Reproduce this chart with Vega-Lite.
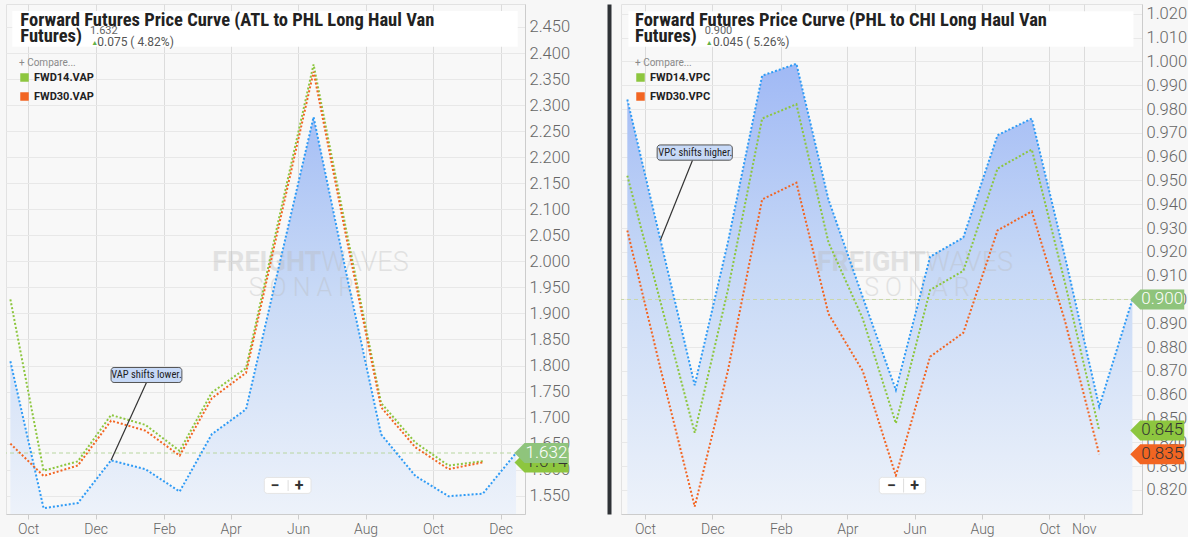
{
  "$schema": "https://vega.github.io/schema/vega-lite/v6.json",
  "background": "#f7f7f7",
  "padding": {"left": 5, "top": 3, "right": 0, "bottom": 0},
  "autosize": {"type": "pad"},
  "bounds": "flush",
  "spacing": 96,
  "datasets": {
    "vap": [
      {"date": "2019-09-15", "series": "VAP", "value": 1.808},
      {"date": "2019-10-15", "series": "VAP", "value": 1.526},
      {"date": "2019-11-15", "series": "VAP", "value": 1.536},
      {"date": "2019-12-15", "series": "VAP", "value": 1.618},
      {"date": "2020-01-15", "series": "VAP", "value": 1.601},
      {"date": "2020-02-15", "series": "VAP", "value": 1.558},
      {"date": "2020-03-15", "series": "VAP", "value": 1.668},
      {"date": "2020-04-15", "series": "VAP", "value": 1.716},
      {"date": "2020-05-15", "series": "VAP", "value": 1.993},
      {"date": "2020-06-15", "series": "VAP", "value": 2.277},
      {"date": "2020-07-15", "series": "VAP", "value": 1.973},
      {"date": "2020-08-15", "series": "VAP", "value": 1.668},
      {"date": "2020-09-15", "series": "VAP", "value": 1.588},
      {"date": "2020-10-15", "series": "VAP", "value": 1.549},
      {"date": "2020-11-15", "series": "VAP", "value": 1.554},
      {"date": "2020-12-15", "series": "VAP", "value": 1.632},
      {"date": "2019-09-15", "series": "FWD14.VAP", "value": 1.927},
      {"date": "2019-10-15", "series": "FWD14.VAP", "value": 1.598},
      {"date": "2019-11-15", "series": "FWD14.VAP", "value": 1.616},
      {"date": "2019-12-15", "series": "FWD14.VAP", "value": 1.705},
      {"date": "2020-01-15", "series": "FWD14.VAP", "value": 1.686},
      {"date": "2020-02-15", "series": "FWD14.VAP", "value": 1.636},
      {"date": "2020-03-15", "series": "FWD14.VAP", "value": 1.748},
      {"date": "2020-04-15", "series": "FWD14.VAP", "value": 1.795},
      {"date": "2020-05-15", "series": "FWD14.VAP", "value": 2.085},
      {"date": "2020-06-15", "series": "FWD14.VAP", "value": 2.378},
      {"date": "2020-07-15", "series": "FWD14.VAP", "value": 2.055},
      {"date": "2020-08-15", "series": "FWD14.VAP", "value": 1.728},
      {"date": "2020-09-15", "series": "FWD14.VAP", "value": 1.652},
      {"date": "2020-10-15", "series": "FWD14.VAP", "value": 1.608},
      {"date": "2020-11-15", "series": "FWD14.VAP", "value": 1.616},
      {"date": "2019-09-15", "series": "FWD30.VAP", "value": 1.650},
      {"date": "2019-10-15", "series": "FWD30.VAP", "value": 1.588},
      {"date": "2019-11-15", "series": "FWD30.VAP", "value": 1.608},
      {"date": "2019-12-15", "series": "FWD30.VAP", "value": 1.694},
      {"date": "2020-01-15", "series": "FWD30.VAP", "value": 1.675},
      {"date": "2020-02-15", "series": "FWD30.VAP", "value": 1.627},
      {"date": "2020-03-15", "series": "FWD30.VAP", "value": 1.737},
      {"date": "2020-04-15", "series": "FWD30.VAP", "value": 1.786},
      {"date": "2020-05-15", "series": "FWD30.VAP", "value": 2.072},
      {"date": "2020-06-15", "series": "FWD30.VAP", "value": 2.364},
      {"date": "2020-07-15", "series": "FWD30.VAP", "value": 2.042},
      {"date": "2020-08-15", "series": "FWD30.VAP", "value": 1.720},
      {"date": "2020-09-15", "series": "FWD30.VAP", "value": 1.643},
      {"date": "2020-10-15", "series": "FWD30.VAP", "value": 1.601},
      {"date": "2020-11-15", "series": "FWD30.VAP", "value": 1.614}
    ],
    "vpc": [
      {"date": "2019-09-15", "series": "VPC", "value": 0.984},
      {"date": "2019-10-15", "series": "VPC", "value": 0.925},
      {"date": "2019-11-15", "series": "VPC", "value": 0.864},
      {"date": "2019-12-15", "series": "VPC", "value": 0.924},
      {"date": "2020-01-15", "series": "VPC", "value": 0.994},
      {"date": "2020-02-15", "series": "VPC", "value": 0.999},
      {"date": "2020-03-15", "series": "VPC", "value": 0.942},
      {"date": "2020-04-15", "series": "VPC", "value": 0.901},
      {"date": "2020-05-15", "series": "VPC", "value": 0.862},
      {"date": "2020-06-15", "series": "VPC", "value": 0.918},
      {"date": "2020-07-15", "series": "VPC", "value": 0.926},
      {"date": "2020-08-15", "series": "VPC", "value": 0.969},
      {"date": "2020-09-15", "series": "VPC", "value": 0.976},
      {"date": "2020-10-15", "series": "VPC", "value": 0.918},
      {"date": "2020-11-15", "series": "VPC", "value": 0.855},
      {"date": "2020-12-15", "series": "VPC", "value": 0.900},
      {"date": "2019-09-15", "series": "FWD14.VPC", "value": 0.952},
      {"date": "2019-10-15", "series": "FWD14.VPC", "value": 0.899},
      {"date": "2019-11-15", "series": "FWD14.VPC", "value": 0.844},
      {"date": "2019-12-15", "series": "FWD14.VPC", "value": 0.904},
      {"date": "2020-01-15", "series": "FWD14.VPC", "value": 0.976},
      {"date": "2020-02-15", "series": "FWD14.VPC", "value": 0.982},
      {"date": "2020-03-15", "series": "FWD14.VPC", "value": 0.924},
      {"date": "2020-04-15", "series": "FWD14.VPC", "value": 0.892},
      {"date": "2020-05-15", "series": "FWD14.VPC", "value": 0.848},
      {"date": "2020-06-15", "series": "FWD14.VPC", "value": 0.904},
      {"date": "2020-07-15", "series": "FWD14.VPC", "value": 0.912},
      {"date": "2020-08-15", "series": "FWD14.VPC", "value": 0.955},
      {"date": "2020-09-15", "series": "FWD14.VPC", "value": 0.963},
      {"date": "2020-10-15", "series": "FWD14.VPC", "value": 0.907},
      {"date": "2020-11-15", "series": "FWD14.VPC", "value": 0.845},
      {"date": "2019-09-15", "series": "FWD30.VPC", "value": 0.929},
      {"date": "2019-10-15", "series": "FWD30.VPC", "value": 0.871},
      {"date": "2019-11-15", "series": "FWD30.VPC", "value": 0.813},
      {"date": "2019-12-15", "series": "FWD30.VPC", "value": 0.870},
      {"date": "2020-01-15", "series": "FWD30.VPC", "value": 0.942},
      {"date": "2020-02-15", "series": "FWD30.VPC", "value": 0.949},
      {"date": "2020-03-15", "series": "FWD30.VPC", "value": 0.894},
      {"date": "2020-04-15", "series": "FWD30.VPC", "value": 0.870},
      {"date": "2020-05-15", "series": "FWD30.VPC", "value": 0.826},
      {"date": "2020-06-15", "series": "FWD30.VPC", "value": 0.876},
      {"date": "2020-07-15", "series": "FWD30.VPC", "value": 0.886},
      {"date": "2020-08-15", "series": "FWD30.VPC", "value": 0.929},
      {"date": "2020-09-15", "series": "FWD30.VPC", "value": 0.937},
      {"date": "2020-10-15", "series": "FWD30.VPC", "value": 0.891},
      {"date": "2020-11-15", "series": "FWD30.VPC", "value": 0.835}
    ]
  },
  "config": {
    "view": {"stroke": "#e2e2e2", "fill": "#f8f8f8"},
    "font": "Roboto",
    "axis": {
      "labelFont": "Roboto",
      "labelColor": "#666666",
      "labelFontWeight": 300,
      "domainColor": "#cccccc",
      "tickColor": "#cccccc",
      "title": null
    },
    "axisX": {"gridColor": "#dcdcdc", "labelFontSize": 14, "tickSize": 5, "labelPadding": 3, "labelFlush": false},
    "axisY": {"gridColor": "#e8e8e8", "labelFontSize": 16.5, "ticks": false, "labelPadding": 4}
  },
  "resolve": {"scale": {"color": "independent", "fill": "independent"}, "legend": {"fill": "independent", "color": "independent"}},
  "hconcat": [
    {
      "width": 519,
      "height": 510,
      "data": {"name": "vap"},
      "layer": [
        {
          "transform": [{"filter": "datum.series === 'VAP'"}],
          "mark": {
            "type": "area",
            "color": {
              "gradient": "linear", "x1": 0, "y1": 0, "x2": 0, "y2": 1,
              "stops": [
                {"offset": 0, "color": "#a6bff5"},
                {"offset": 0.45, "color": "#c9daf6"},
                {"offset": 1, "color": "#edf2fa"}
              ]
            }
          },
          "encoding": {
            "x": {
              "field": "date", "type": "temporal",
              "scale": {"type": "utc", "domain": [{"year": 2019, "month": 9, "date": 11, "hours": 1, "utc": true}, {"year": 2020, "month": 12, "date": 23, "hours": 2, "utc": true}]},
              "axis": {
                "format": "%b", "grid": true, "labelOverlap": false, "tickCount": 40,
                "values": [
                  {"year": 2019, "month": 10, "date": 1, "utc": true},
                  {"year": 2019, "month": 12, "date": 1, "utc": true},
                  {"year": 2020, "month": 2, "date": 1, "utc": true},
                  {"year": 2020, "month": 4, "date": 1, "utc": true},
                  {"year": 2020, "month": 6, "date": 1, "utc": true},
                  {"year": 2020, "month": 8, "date": 1, "utc": true},
                  {"year": 2020, "month": 10, "date": 1, "utc": true},
                  {"year": 2020, "month": 12, "date": 1, "utc": true}
                ]
              }
            },
            "y": {
              "field": "value", "type": "quantitative",
              "scale": {"domain": [1.5149, 2.4941], "zero": false, "nice": false},
              "axis": {
                "orient": "right", "format": ".3f", "grid": true, "labelOverlap": false, "labelBound": false, "tickCount": 40,
                "values": [1.55, 1.6, 1.65, 1.7, 1.75, 1.8, 1.85, 1.9, 1.95, 2.0, 2.05, 2.1, 2.15, 2.2, 2.25, 2.3, 2.35, 2.4, 2.45]
              }
            },
            "y2": {"datum": 1.5149}
          }
        },
        {
          "data": {"values": [{}]},
          "mark": {"type": "text", "text": "FREIGHT", "align": "right", "baseline": "middle", "fontSize": 27, "fontWeight": "bold", "fill": "#b9b9b9", "opacity": 0.35},
          "encoding": {"x": {"datum": {"year": 2020, "month": 6, "date": 22, "utc": true}, "type": "temporal"}, "y": {"datum": 1.997}}
        },
        {
          "data": {"values": [{}]},
          "mark": {"type": "text", "text": "WAVES", "align": "left", "baseline": "middle", "fontSize": 27, "fontWeight": 300, "fill": "#b9b9b9", "opacity": 0.35},
          "encoding": {"x": {"datum": {"year": 2020, "month": 6, "date": 22, "utc": true}, "type": "temporal"}, "y": {"datum": 1.997}}
        },
        {
          "data": {"values": [{}]},
          "mark": {"type": "text", "text": "S O N A R", "align": "center", "baseline": "middle", "fontSize": 25, "fontWeight": 300, "fill": "#b9b9b9", "opacity": 0.35},
          "encoding": {"x": {"datum": {"year": 2020, "month": 6, "date": 4, "utc": true}, "type": "temporal"}, "y": {"datum": 1.949}}
        },
        {
          "data": {"values": [{}]},
          "mark": {"type": "rule", "color": "#b8d6a0", "strokeDash": [4, 3], "strokeWidth": 1},
          "encoding": {"y": {"datum": 1.632}}
        },
        {
          "mark": {"type": "line", "strokeDash": [2, 2], "strokeWidth": 2},
          "encoding": {
            "x": {"field": "date", "type": "temporal"},
            "y": {"field": "value", "type": "quantitative"},
            "color": {
              "field": "series", "type": "nominal", "legend": null,
              "scale": {"domain": ["VAP", "FWD14.VAP", "FWD30.VAP"], "range": ["#2f9bf5", "#8dc63f", "#f26522"]}
            }
          }
        },
        {
          "transform": [{"filter": "datum.value > 100"}],
          "mark": {"type": "point", "shape": "square", "filled": true, "opacity": 1},
          "encoding": {
            "x": {"field": "date", "type": "temporal"},
            "y": {"field": "value", "type": "quantitative"},
            "fill": {
              "field": "series", "type": "nominal",
              "scale": {"domain": ["FWD14.VAP", "FWD30.VAP"], "range": ["#8dc63f", "#f26522"]},
              "legend": {
                "title": "+  Compare...", "orient": "none", "legendX": 13, "legendY": 54,
                "symbolType": "square", "symbolSize": 72, "symbolOpacity": 1, "symbolStrokeWidth": 0,
                "titleFont": "Roboto", "titleFontSize": 10, "titleFontWeight": "normal", "titleColor": "#8a8a8a", "titlePadding": 4,
                "labelFont": "Roboto", "labelFontSize": 11, "labelFontWeight": "bold", "labelColor": "#222222", "labelOffset": 4,
                "rowPadding": 7
              }
            }
          }
        },
        {
          "data": {"values": [{}]},
          "mark": {"type": "rule", "color": "#333333", "strokeWidth": 1.2},
          "encoding": {
            "x": {"datum": {"year": 2019, "month": 12, "date": 15, "utc": true}, "type": "temporal"},
            "y": {"datum": 1.618},
            "x2": {"datum": {"year": 2020, "month": 1, "date": 16, "utc": true}},
            "y2": {"datum": 1.7674}
          }
        },
        {
          "data": {"values": [{}]},
          "mark": {"type": "rect", "fill": "#c7d9f7", "stroke": "#555555", "strokeWidth": 1, "cornerRadius": 3},
          "encoding": {
            "x": {"datum": {"year": 2019, "month": 12, "date": 15, "utc": true}, "type": "temporal"},
            "x2": {"datum": {"year": 2020, "month": 2, "date": 17, "utc": true}},
            "y": {"datum": 1.7962},
            "y2": {"datum": 1.7674}
          }
        },
        {
          "data": {"values": [{}]},
          "mark": {"type": "text", "text": "VAP shifts lower.", "align": "center", "baseline": "middle", "font": "Liberation Sans Narrow, Roboto Condensed, Roboto", "fontSize": 10.5, "fill": "#222222"},
          "encoding": {"x": {"datum": {"year": 2020, "month": 1, "date": 16, "utc": true}, "type": "temporal"}, "y": {"datum": 1.782}}
        },
        {
          "data": {"values": [{}]},
          "mark": {"type": "rect", "fill": "#ffffff", "stroke": "#e4e4e4", "strokeWidth": 1, "cornerRadius": 3},
          "encoding": {
            "x": {"datum": {"year": 2020, "month": 5, "date": 1, "hours": 12, "utc": true}, "type": "temporal"},
            "x2": {"datum": {"year": 2020, "month": 6, "date": 12, "hours": 17, "utc": true}},
            "y": {"datum": 1.5851},
            "y2": {"datum": 1.5544}
          }
        },
        {
          "data": {"values": [{}]},
          "mark": {"type": "rule", "color": "#dddddd", "strokeWidth": 1},
          "encoding": {
            "x": {"datum": {"year": 2020, "month": 5, "date": 23, "utc": true}, "type": "temporal"},
            "y": {"datum": 1.580},
            "y2": {"datum": 1.559}
          }
        },
        {
          "data": {"values": [{}]},
          "mark": {"type": "text", "text": "−", "align": "center", "baseline": "middle", "fontSize": 16, "fontWeight": "bold", "fill": "#333333"},
          "encoding": {"x": {"datum": {"year": 2020, "month": 5, "date": 11, "utc": true}, "type": "temporal"}, "y": {"datum": 1.5692}}
        },
        {
          "data": {"values": [{}]},
          "mark": {"type": "text", "text": "+", "align": "center", "baseline": "middle", "fontSize": 16, "fontWeight": "bold", "fill": "#333333"},
          "encoding": {"x": {"datum": {"year": 2020, "month": 6, "date": 2, "utc": true}, "type": "temporal"}, "y": {"datum": 1.5692}}
        },
        {
          "data": {"values": [{}]},
          "mark": {"type": "rect", "fill": "#ffffff"},
          "encoding": {
            "x": {"datum": {"year": 2019, "month": 9, "date": 16, "hours": 17, "utc": true}, "type": "temporal"},
            "x2": {"datum": {"year": 2020, "month": 12, "date": 16, "hours": 12, "utc": true}},
            "y": {"datum": 2.4807},
            "y2": {"datum": 2.4122}
          }
        },
        {
          "data": {"values": [{}]},
          "mark": {"type": "text", "text": ["Forward Futures Price Curve (ATL to PHL Long Haul Van", "Futures)"], "align": "left", "baseline": "alphabetic", "lineHeight": 16, "font": "Liberation Sans Narrow, Roboto Condensed, Roboto", "fontSize": 18.5, "fontWeight": "bold", "fill": "#222222"},
          "encoding": {"x": {"datum": {"year": 2019, "month": 9, "date": 24, "utc": true}, "type": "temporal"}, "y": {"datum": 2.452}}
        },
        {
          "data": {"values": [{}]},
          "mark": {"type": "text", "text": "1.632", "align": "left", "baseline": "alphabetic", "fontSize": 11, "fill": "#666666"},
          "encoding": {"x": {"datum": {"year": 2019, "month": 11, "date": 26, "utc": true}, "type": "temporal"}, "y": {"datum": 2.4366}}
        },
        {
          "data": {"values": [{}]},
          "mark": {"type": "text", "text": "▲", "align": "left", "baseline": "alphabetic", "fontSize": 7, "fill": "#62b146"},
          "encoding": {"x": {"datum": {"year": 2019, "month": 11, "date": 27, "utc": true}, "type": "temporal"}, "y": {"datum": 2.4145}}
        },
        {
          "data": {"values": [{}]},
          "mark": {"type": "text", "text": "0.075 ( 4.82%)", "align": "left", "baseline": "alphabetic", "fontSize": 12, "fill": "#555555"},
          "encoding": {"x": {"datum": {"year": 2019, "month": 12, "date": 2, "hours": 12, "utc": true}, "type": "temporal"}, "y": {"datum": 2.4135}}
        },
        {
          "data": {"values": [{}]},
          "mark": {"type": "point", "shape": "M-1,0L-0.63,-0.37L1,-0.37L1,0.37L-0.63,0.37Z", "size": 2916, "filled": true, "fill": "#8dc63f", "opacity": 1, "strokeWidth": 0},
          "encoding": {"x": {"datum": {"year": 2021, "month": 1, "date": 7, "utc": true}, "type": "temporal"}, "y": {"datum": 1.614}}
        },
        {
          "data": {"values": [{}]},
          "mark": {"type": "text", "text": "1.614", "align": "center", "baseline": "middle", "fontSize": 17, "fontWeight": 300, "fill": "#333333"},
          "encoding": {"x": {"datum": {"year": 2021, "month": 1, "date": 11, "hours": 12, "utc": true}, "type": "temporal"}, "y": {"datum": 1.614}}
        },
        {
          "data": {"values": [{}]},
          "mark": {"type": "point", "shape": "M-1,0L-0.63,-0.37L1,-0.37L1,0.37L-0.63,0.37Z", "size": 2916, "filled": true, "fill": "#8fc47c", "opacity": 1, "strokeWidth": 0},
          "encoding": {"x": {"datum": {"year": 2021, "month": 1, "date": 7, "utc": true}, "type": "temporal"}, "y": {"datum": 1.632}}
        },
        {
          "data": {"values": [{}]},
          "mark": {"type": "text", "text": "1.632", "align": "center", "baseline": "middle", "fontSize": 17, "fontWeight": 300, "fill": "#ffffff"},
          "encoding": {"x": {"datum": {"year": 2021, "month": 1, "date": 11, "hours": 12, "utc": true}, "type": "temporal"}, "y": {"datum": 1.632}}
        }
      ]
    },
    {
      "width": 521,
      "height": 510,
      "data": {"name": "vpc"},
      "resolve": {"axis": {"y": "independent"}},
      "layer": [
        {
          "layer": [
            {
              "transform": [{"filter": "datum.series === 'VPC'"}],
              "mark": {
                "type": "area",
                "color": {
                  "gradient": "linear", "x1": 0, "y1": 0, "x2": 0, "y2": 1,
                  "stops": [
                    {"offset": 0, "color": "#a0b9f5"},
                    {"offset": 0.45, "color": "#c6d8f6"},
                    {"offset": 1, "color": "#edf2fa"}
                  ]
                }
              },
              "encoding": {
                "x": {
                  "field": "date", "type": "temporal",
                  "scale": {"type": "utc", "domain": [{"year": 2019, "month": 9, "date": 9, "hours": 7, "utc": true}, {"year": 2020, "month": 12, "date": 23, "hours": 17, "utc": true}]},
                  "axis": {
                    "format": "%b", "grid": true, "labelOverlap": false, "tickCount": 40,
                    "values": [
                      {"year": 2019, "month": 10, "date": 1, "utc": true},
                      {"year": 2019, "month": 12, "date": 1, "utc": true},
                      {"year": 2020, "month": 2, "date": 1, "utc": true},
                      {"year": 2020, "month": 4, "date": 1, "utc": true},
                      {"year": 2020, "month": 6, "date": 1, "utc": true},
                      {"year": 2020, "month": 8, "date": 1, "utc": true},
                      {"year": 2020, "month": 10, "date": 1, "utc": true},
                      {"year": 2020, "month": 11, "date": 1, "utc": true}
                    ]
                  }
                },
                "y": {
                  "field": "value", "type": "quantitative",
                  "scale": {"domain": [0.8099, 1.0241], "zero": false, "nice": false},
                  "axis": {
                    "orient": "right", "format": ".3f", "grid": true, "labelOverlap": false, "labelBound": false, "tickCount": 40,
                    "values": [0.82, 0.83, 0.84, 0.85, 0.86, 0.87, 0.88, 0.89, 0.9, 0.91, 0.92, 0.93, 0.94, 0.95, 0.96, 0.97, 0.98, 0.99, 1.0, 1.01, 1.02]
                  }
                },
                "y2": {"datum": 0.8099}
              }
            },
            {
              "data": {"values": [{}]},
              "mark": {"type": "text", "text": "FREIGHT", "align": "right", "baseline": "middle", "fontSize": 27, "fontWeight": "bold", "fill": "#b9b9b9", "opacity": 0.35},
              "encoding": {"x": {"datum": {"year": 2020, "month": 6, "date": 11, "utc": true}, "type": "temporal"}, "y": {"datum": 0.9154}}
            },
            {
              "data": {"values": [{}]},
              "mark": {"type": "text", "text": "WAVES", "align": "left", "baseline": "middle", "fontSize": 27, "fontWeight": 300, "fill": "#b9b9b9", "opacity": 0.35},
              "encoding": {"x": {"datum": {"year": 2020, "month": 6, "date": 11, "utc": true}, "type": "temporal"}, "y": {"datum": 0.9154}}
            },
            {
              "data": {"values": [{}]},
              "mark": {"type": "text", "text": "S O N A R", "align": "center", "baseline": "middle", "fontSize": 25, "fontWeight": 300, "fill": "#b9b9b9", "opacity": 0.35},
              "encoding": {"x": {"datum": {"year": 2020, "month": 6, "date": 3, "utc": true}, "type": "temporal"}, "y": {"datum": 0.905}}
            },
            {
              "data": {"values": [{}]},
              "mark": {"type": "rule", "color": "#c9d7a8", "strokeDash": [4, 3], "strokeWidth": 1},
              "encoding": {"y": {"datum": 0.9}}
            },
            {
              "mark": {"type": "line", "strokeDash": [2, 2], "strokeWidth": 2},
              "encoding": {
                "x": {"field": "date", "type": "temporal"},
                "y": {"field": "value", "type": "quantitative"},
                "color": {
                  "field": "series", "type": "nominal", "legend": null,
                  "scale": {"domain": ["VPC", "FWD14.VPC", "FWD30.VPC"], "range": ["#2f9bf5", "#8dc63f", "#f26522"]}
                }
              }
            },
            {
              "transform": [{"filter": "datum.value > 100"}],
              "mark": {"type": "point", "shape": "square", "filled": true, "opacity": 1},
              "encoding": {
                "x": {"field": "date", "type": "temporal"},
                "y": {"field": "value", "type": "quantitative"},
                "fill": {
                  "field": "series", "type": "nominal",
                  "scale": {"domain": ["FWD14.VPC", "FWD30.VPC"], "range": ["#8dc63f", "#f26522"]},
                  "legend": {
                    "title": "+  Compare...", "orient": "none", "legendX": 14, "legendY": 54,
                    "symbolType": "square", "symbolSize": 72, "symbolOpacity": 1, "symbolStrokeWidth": 0,
                    "titleFont": "Roboto", "titleFontSize": 10, "titleFontWeight": "normal", "titleColor": "#8a8a8a", "titlePadding": 4,
                    "labelFont": "Roboto", "labelFontSize": 11, "labelFontWeight": "bold", "labelColor": "#222222", "labelOffset": 4,
                    "rowPadding": 7
                  }
                }
              }
            },
            {
              "data": {"values": [{}]},
              "mark": {"type": "rule", "color": "#333333", "strokeWidth": 1.2},
              "encoding": {
                "x": {"datum": {"year": 2019, "month": 10, "date": 15, "utc": true}, "type": "temporal"},
                "y": {"datum": 0.925},
                "x2": {"datum": {"year": 2019, "month": 11, "date": 13, "utc": true}},
                "y2": {"datum": 0.9585}
              }
            },
            {
              "data": {"values": [{}]},
              "mark": {"type": "rect", "fill": "#c7d9f7", "stroke": "#555555", "strokeWidth": 1, "cornerRadius": 3},
              "encoding": {
                "x": {"datum": {"year": 2019, "month": 10, "date": 12, "utc": true}, "type": "temporal"},
                "x2": {"datum": {"year": 2019, "month": 12, "date": 19, "utc": true}},
                "y": {"datum": 0.9649},
                "y2": {"datum": 0.9585}
              }
            },
            {
              "data": {"values": [{}]},
              "mark": {"type": "text", "text": "VPC shifts higher.", "align": "center", "baseline": "middle", "font": "Liberation Sans Narrow, Roboto Condensed, Roboto", "fontSize": 10.5, "fill": "#222222"},
              "encoding": {"x": {"datum": {"year": 2019, "month": 11, "date": 15, "hours": 12, "utc": true}, "type": "temporal"}, "y": {"datum": 0.9617}}
            },
            {
              "data": {"values": [{}]},
              "mark": {"type": "rect", "fill": "#ffffff", "stroke": "#e4e4e4", "strokeWidth": 1, "cornerRadius": 3},
              "encoding": {
                "x": {"datum": {"year": 2020, "month": 4, "date": 30, "utc": true}, "type": "temporal"},
                "x2": {"datum": {"year": 2020, "month": 6, "date": 11, "utc": true}},
                "y": {"datum": 0.8253},
                "y2": {"datum": 0.8184}
              }
            },
            {
              "data": {"values": [{}]},
              "mark": {"type": "rule", "color": "#dddddd", "strokeWidth": 1},
              "encoding": {
                "x": {"datum": {"year": 2020, "month": 5, "date": 22, "utc": true}, "type": "temporal"},
                "y": {"datum": 0.8248},
                "y2": {"datum": 0.8189}
              }
            },
            {
              "data": {"values": [{}]},
              "mark": {"type": "text", "text": "−", "align": "center", "baseline": "middle", "fontSize": 16, "fontWeight": "bold", "fill": "#333333"},
              "encoding": {"x": {"datum": {"year": 2020, "month": 5, "date": 11, "utc": true}, "type": "temporal"}, "y": {"datum": 0.8218}}
            },
            {
              "data": {"values": [{}]},
              "mark": {"type": "text", "text": "+", "align": "center", "baseline": "middle", "fontSize": 16, "fontWeight": "bold", "fill": "#333333"},
              "encoding": {"x": {"datum": {"year": 2020, "month": 6, "date": 1, "utc": true}, "type": "temporal"}, "y": {"datum": 0.8218}}
            },
            {
              "data": {"values": [{}]},
              "mark": {"type": "rect", "fill": "#ffffff"},
              "encoding": {
                "x": {"datum": {"year": 2019, "month": 9, "date": 16, "utc": true}, "type": "temporal"},
                "x2": {"datum": {"year": 2020, "month": 12, "date": 16, "utc": true}},
                "y": {"datum": 1.0211},
                "y2": {"datum": 1.00615}
              }
            },
            {
              "data": {"values": [{}]},
              "mark": {"type": "text", "text": ["Forward Futures Price Curve (PHL to CHI Long Haul Van", "Futures)"], "align": "left", "baseline": "alphabetic", "lineHeight": 16, "font": "Liberation Sans Narrow, Roboto Condensed, Roboto", "fontSize": 18.5, "fontWeight": "bold", "fill": "#222222"},
              "encoding": {"x": {"datum": {"year": 2019, "month": 9, "date": 22, "utc": true}, "type": "temporal"}, "y": {"datum": 1.01484}}
            },
            {
              "data": {"values": [{}]},
              "mark": {"type": "text", "text": "0.900", "align": "left", "baseline": "alphabetic", "fontSize": 11, "fill": "#666666"},
              "encoding": {"x": {"datum": {"year": 2019, "month": 11, "date": 24, "utc": true}, "type": "temporal"}, "y": {"datum": 1.01148}}
            },
            {
              "data": {"values": [{}]},
              "mark": {"type": "text", "text": "▲", "align": "left", "baseline": "alphabetic", "fontSize": 7, "fill": "#62b146"},
              "encoding": {"x": {"datum": {"year": 2019, "month": 11, "date": 25, "utc": true}, "type": "temporal"}, "y": {"datum": 1.0069}}
            },
            {
              "data": {"values": [{}]},
              "mark": {"type": "text", "text": "0.045 ( 5.26%)", "align": "left", "baseline": "alphabetic", "fontSize": 12, "fill": "#555555"},
              "encoding": {"x": {"datum": {"year": 2019, "month": 12, "date": 1, "hours": 12, "utc": true}, "type": "temporal"}, "y": {"datum": 1.00644}}
            },
            {
              "data": {"values": [{}]},
              "mark": {"type": "point", "shape": "M-1,0L-0.63,-0.37L1,-0.37L1,0.37L-0.63,0.37Z", "size": 2916, "filled": true, "fill": "#8fc47c", "opacity": 1, "strokeWidth": 0},
              "encoding": {"x": {"datum": {"year": 2021, "month": 1, "date": 6, "hours": 12, "utc": true}, "type": "temporal"}, "y": {"datum": 0.9}}
            },
            {
              "data": {"values": [{}]},
              "mark": {"type": "text", "text": "0.900", "align": "center", "baseline": "middle", "fontSize": 17, "fontWeight": 300, "fill": "#ffffff"},
              "encoding": {"x": {"datum": {"year": 2021, "month": 1, "date": 11, "utc": true}, "type": "temporal"}, "y": {"datum": 0.9}}
            },
            {
              "data": {"values": [{}]},
              "mark": {"type": "point", "shape": "M-1,0L-0.63,-0.37L1,-0.37L1,0.37L-0.63,0.37Z", "size": 2916, "filled": true, "fill": "#8dc63f", "opacity": 1, "strokeWidth": 0},
              "encoding": {"x": {"datum": {"year": 2021, "month": 1, "date": 6, "hours": 12, "utc": true}, "type": "temporal"}, "y": {"datum": 0.845}}
            },
            {
              "data": {"values": [{}]},
              "mark": {"type": "text", "text": "0.845", "align": "center", "baseline": "middle", "fontSize": 17, "fontWeight": 300, "fill": "#333333"},
              "encoding": {"x": {"datum": {"year": 2021, "month": 1, "date": 11, "utc": true}, "type": "temporal"}, "y": {"datum": 0.845}}
            },
            {
              "data": {"values": [{}]},
              "mark": {"type": "point", "shape": "M-1,0L-0.63,-0.37L1,-0.37L1,0.37L-0.63,0.37Z", "size": 2916, "filled": true, "fill": "#f26522", "opacity": 1, "strokeWidth": 0},
              "encoding": {"x": {"datum": {"year": 2021, "month": 1, "date": 6, "hours": 12, "utc": true}, "type": "temporal"}, "y": {"datum": 0.835}}
            },
            {
              "data": {"values": [{}]},
              "mark": {"type": "text", "text": "0.835", "align": "center", "baseline": "middle", "fontSize": 17, "fontWeight": 300, "fill": "#333333"},
              "encoding": {"x": {"datum": {"year": 2021, "month": 1, "date": 11, "utc": true}, "type": "temporal"}, "y": {"datum": 0.835}}
            }
          ]
        },
        {
          "data": {"values": [{}]},
          "mark": {"type": "rule", "strokeOpacity": 0},
          "encoding": {
            "y": {
              "datum": 0.9, "type": "quantitative",
              "axis": {"orient": "left", "offset": 12, "domain": true, "domainColor": "#2f3236", "domainWidth": 4, "labels": false, "ticks": false, "grid": false, "title": null}
            }
          }
        }
      ]
    }
  ]
}
